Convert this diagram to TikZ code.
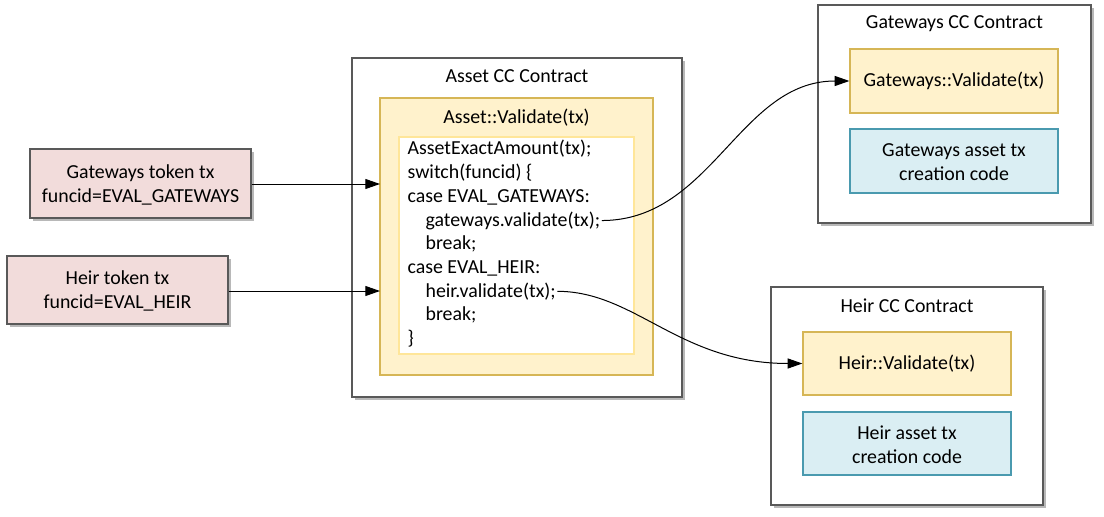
\documentclass[tikz,border=0pt]{standalone}
\usepackage{fontspec}
\setmainfont{Carlito}
\usetikzlibrary{fit,shadows,arrows.meta}
\definecolor{pinkfill}{HTML}{F2DCDB}
\definecolor{boxgray}{HTML}{595959}
\definecolor{yelfill}{HTML}{FFF2CC}
\definecolor{yelline}{HTML}{D6B656}
\definecolor{inline}{HTML}{FFE699}
\definecolor{bluefill}{HTML}{DAEEF3}
\definecolor{blueline}{HTML}{4A9AAF}
\tikzset{
  x=0.75pt, y=-0.75pt,
  every node/.style={font=\fontsize{14.9pt}{17.8pt}\selectfont, text=black},
  shad/.style={drop shadow={shadow xshift=2pt, shadow yshift=-2pt, fill=black, opacity=0.28}},
  outerbox/.style={draw=boxgray, line width=1pt, fill=white, inner sep=0pt, shad},
  pinkbox/.style={draw=boxgray, line width=1pt, fill=pinkfill, inner sep=0pt, shad},
  yelbox/.style={draw=yelline, line width=0.9pt, fill=yelfill, inner sep=0pt},
  whitebox/.style={draw=inline, line width=0.9pt, fill=white, inner sep=0pt},
  bluebox/.style={draw=blueline, line width=0.9pt, fill=bluefill, inner sep=0pt},
  label/.style={align=center, inner sep=0pt},
  title/.style={anchor=base, inner sep=0pt},
  code/.style={anchor=base west, inner sep=0pt, inner xsep=1pt},
  conn/.style={line width=0.75pt, -{Triangle[length=11pt, width=7.5pt]}},
}
\begin{document}
\begin{tikzpicture}
\useasboundingbox (0,0) rectangle (1104,517);

% Asset contract
\node[outerbox, fit={(352,58)(682,397)}] (asset) {};
\node[title] (assett) at (517,83) {Asset CC Contract};
\node[yelbox, fit={(380,98)(653,375)}] (assetval) {};
\node[title] (assetvalt) at (516.5,123) {Asset::Validate(tx)};
\node[whitebox, fit={(399,137)(634,354)}] (codebox) {};
\node[code] (c1) at (406,155) {AssetExactAmount(tx);};
\node[code] (c2) at (406,178.7) {switch(funcid) \{};
\node[code] (c3) at (406,202.4) {case EVAL\_GATEWAYS:};
\node[code] (c4) at (424,226.1) {gateways.validate(tx);};
\node[code] (c5) at (424,249.8) {break;};
\node[code] (c6) at (406,273.5) {case EVAL\_HEIR:};
\node[code] (c7) at (424,297.2) {heir.validate(tx);};
\node[code] (c8) at (424,320.9) {break;};
\node[code] (c9) at (406,344.6) {\}};

% token boxes
\node[pinkbox, fit={(30,149)(251,218)}] (gtok) {};
\node[label] (gtokt) at (140.5,185) {Gateways token tx\\funcid=EVAL\_GATEWAYS};
\node[pinkbox, fit={(7,256)(228,324)}] (htok) {};
\node[label] (htokt) at (117.5,291) {Heir token tx\\funcid=EVAL\_HEIR};

\coordinate (ain1) at (380,184);
\coordinate (ain2) at (380,291);
\draw[conn] (gtok.east |- ain1) -- (ain1);
\draw[conn] (htok.east |- ain2) -- (ain2);

% Gateways contract
\node[outerbox, fit={(818,5)(1091,223)}] (gw) {};
\node[title] (gwt) at (954.5,29) {Gateways CC Contract};
\node[yelbox, fit={(850,49)(1058,113)}] (gwval) {};
\node[label] (gwvalt) at (954,81) {Gateways::Validate(tx)};
\node[bluebox, fit={(850,129)(1058,193)}] (gwasset) {};
\node[label] (gwassett) at (954,162) {Gateways asset tx\\creation code};

% Heir contract
\node[outerbox, fit={(771,287)(1043,505)}] (heir) {};
\node[title] (heirt) at (907,312) {Heir CC Contract};
\node[yelbox, fit={(803,332)(1011,395)}] (heirval) {};
\node[label] (heirvalt) at (907,363.5) {Heir::Validate(tx)};
\node[bluebox, fit={(803,412)(1011,475)}] (heirasset) {};
\node[label] (heirassett) at (907,444.5) {Heir asset tx\\creation code};

% curves
\draw[conn] (c4.east) .. controls +(110,0) and +(-110,0) .. (gwval.west);
\draw[conn] (c7.east) .. controls +(78,0) and +(-123,0) .. (heirval.west);
\end{tikzpicture}
\end{document}
